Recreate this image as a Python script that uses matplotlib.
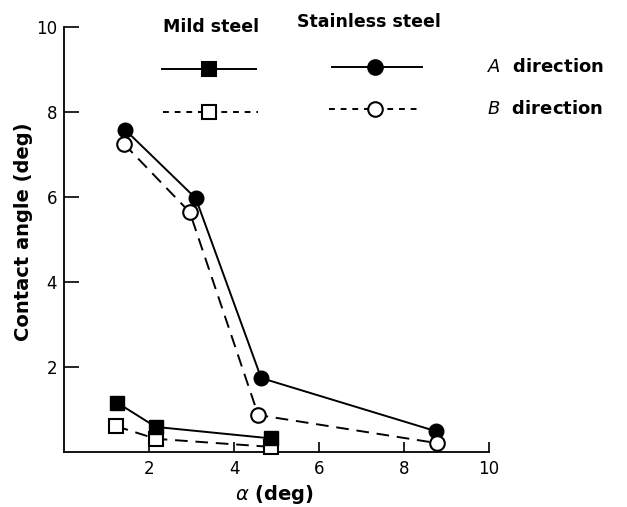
import matplotlib
matplotlib.use("Agg")
import matplotlib.pyplot as plt
from matplotlib.lines import Line2D

# Contact angle versus alpha, two steels, two directions
mild_a_x = [1.25, 2.16, 4.87]
mild_a_y = [1.16, 0.59, 0.32]
mild_b_x = [1.22, 2.16, 4.87]
mild_b_y = [0.61, 0.31, 0.12]
stainless_a_x = [1.44, 3.10, 4.64, 8.75]
stainless_a_y = [7.58, 5.97, 1.74, 0.49]
stainless_b_x = [1.41, 2.96, 4.57, 8.77]
stainless_b_y = [7.25, 5.64, 0.87, 0.21]

x_ticks = [2, 4, 6, 8, 10]
y_ticks = [2, 4, 6, 8, 10]

W, H = 627, 507
fig = plt.figure(figsize=(W / 100, H / 100), dpi=100)
ax = fig.add_axes([64 / W, 1 - 452 / H, (489 - 64) / W, (452 - 27) / H])

dash = (0, (6.5, 4))
lw = 1.4
ms_c = 10.5
ms_s = 10

ax.plot(stainless_a_x, stainless_a_y, color="black", lw=lw, marker="o",
        ms=ms_c, mfc="black", mec="black", clip_on=False, zorder=3)
ax.plot(stainless_b_x, stainless_b_y, color="black", lw=lw, ls=dash, marker="o",
        ms=ms_c, mfc="white", mec="black", mew=1.5, clip_on=False, zorder=3)
ax.plot(mild_b_x, mild_b_y, color="black", lw=lw, ls=dash, marker="s",
        ms=ms_s, mfc="white", mec="black", mew=1.5, clip_on=False, zorder=3)
ax.plot(mild_a_x, mild_a_y, color="black", lw=lw, marker="s",
        ms=ms_s, mfc="black", mec="black", clip_on=False, zorder=4)

ax.set_xlim(0, 10)
ax.set_ylim(0, 10)
ax.set_xticks(x_ticks)
ax.set_yticks(y_ticks)
ax.spines["top"].set_visible(False)
ax.spines["right"].set_visible(False)
for s in ("left", "bottom"):
    ax.spines[s].set_linewidth(1.3)
ax.tick_params(axis="x", direction="in", length=7, width=1.2, labelsize=12, pad=6)
ax.tick_params(axis="y", direction="in", length=11, width=1.2, labelsize=12, pad=5)

ax.set_xlabel(r"$\alpha$ (deg)", fontsize=14, fontweight="bold")
ax.set_ylabel("Contact angle (deg)", fontsize=14, fontweight="bold")
ax.xaxis.set_label_coords((274 - 64) / (489 - 64), -(495 - 452) / (452 - 27))
ax.yaxis.set_label_coords(-(64 - 24) / (489 - 64), (452 - 232) / (452 - 27))
ax.xaxis.label.set_va("center")
ax.yaxis.label.set_va("center")

# Key drawn above the plot area
def key_line(x0, x1, xm, y, ls, marker, mfc):
    fig.add_artist(Line2D([x0 / W, x1 / W], [1 - y / H, 1 - y / H], color="black",
                          lw=lw, ls=ls, transform=fig.transFigure))
    fig.add_artist(Line2D([xm / W], [1 - y / H], color="black", marker=marker,
                          ms=ms_s if marker == "s" else ms_c, mfc=mfc, mec="black",
                          mew=1.5, ls="none", transform=fig.transFigure))

key_line(162, 256, 209, 69, "-", "s", "black")
key_line(163, 258, 209, 112, (0, (3, 3)), "s", "white")
key_line(332, 422, 375, 67, "-", "o", "black")
key_line(329, 422, 375, 109, (0, (3, 3)), "o", "white")

fig.text(211 / W, 1 - 27 / H, "Mild steel", fontsize=12.5, fontweight="bold",
         ha="center", va="center")
fig.text(369 / W, 1 - 22 / H, "Stainless steel", fontsize=12.5, fontweight="bold",
         ha="center", va="center")
fig.text(487 / W, 1 - 67 / H, r"$\it{A}$  direction", fontsize=13, fontweight="bold",
         ha="left", va="center")
fig.text(487 / W, 1 - 109 / H, r"$\it{B}$  direction", fontsize=13, fontweight="bold",
         ha="left", va="center")

fig.savefig("out.png", dpi=100)
